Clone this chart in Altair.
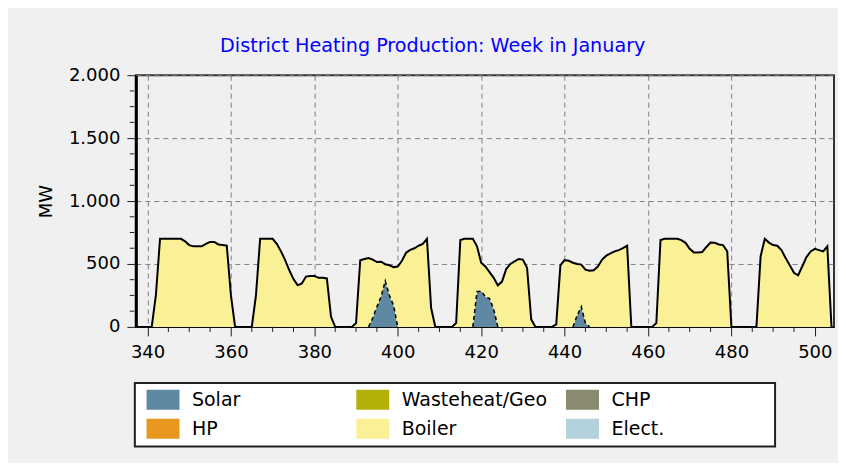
import altair as alt
import pandas as pd

# ---- data (hourly, hours 337..504) ----
start_hour = 337
total_day1 = [0, 0, 0, 0, 0, 250, 700, 700, 700, 700, 700, 700, 680, 650, 640, 640, 640, 660, 675, 675, 655, 650, 645, 250]
total_day2 = [0, 0, 0, 0, 0, 250, 700, 700, 700, 700, 660, 600, 530, 450, 380, 330, 345, 400, 405, 405, 390, 390, 385, 80]
total_day3 = [0, 0, 0, 0, 0, 30, 530, 540, 547, 534, 515, 518, 498, 490, 475, 480, 525, 590, 612, 625, 645, 660, 700, 150]
total_day4 = [0, 0, 0, 0, 0, 30, 690, 700, 700, 700, 640, 510, 480, 435, 390, 330, 360, 460, 500, 520, 540, 535, 470, 60]
total_day5 = [0, 0, 0, 0, 0, 20, 490, 530, 525, 510, 500, 495, 455, 447, 450, 480, 535, 566, 585, 600, 610, 626, 645, 0]
total_day6 = [0, 0, 0, 0, 0, 30, 690, 700, 700, 700, 700, 690, 668, 620, 592, 592, 595, 635, 670, 668, 655, 650, 600, 0]
total_day7 = [0, 0, 0, 0, 0, 0, 560, 700, 670, 650, 645, 610, 547, 490, 430, 410, 482, 555, 600, 620, 610, 600, 640, 0]

solar_day1 = [0] * 24
solar_day2 = [0] * 24
solar_day3 = [0, 0, 0, 0, 0, 0, 0, 0, 0, 70, 160, 240, 365, 250, 170, 0, 0, 0, 0, 0, 0, 0, 0, 0]
solar_day4 = [0, 0, 0, 0, 0, 0, 0, 0, 0, 0, 280, 285, 240, 225, 140, 0, 0, 0, 0, 0, 0, 0, 0, 0]
solar_day5 = [0, 0, 0, 0, 0, 0, 0, 0, 0, 0, 90, 160, 30, 0, 0, 0, 0, 0, 0, 0, 0, 0, 0, 0]
solar_day6 = [0] * 24
solar_day7 = [0] * 24

sources = ["Solar", "Wasteheat/Geo", "CHP", "HP", "Boiler", "Elect."]
source_colors = ["#5F88A2", "#B4B00A", "#8A8A70", "#E8981E", "#FAF096", "#B4D2DC"]

x_major = [340, 360, 380, 400, 420, 440, 460, 480, 500]
x_minor = [345, 350, 355, 365, 370, 375, 385, 390, 395, 405, 410, 415,
           425, 430, 435, 445, 450, 455, 465, 470, 475, 485, 490, 495]
y_major = [0, 500, 1000, 1500, 2000]
y_minor = [125, 250, 375, 625, 750, 875, 1125, 1250, 1375, 1625, 1750, 1875]

# ---- tables ----
total = total_day1 + total_day2 + total_day3 + total_day4 + total_day5 + total_day6 + total_day7
solar = solar_day1 + solar_day2 + solar_day3 + solar_day4 + solar_day5 + solar_day6 + solar_day7
hours = list(range(start_hour, start_hour + len(total)))
df = pd.DataFrame({
    "hour": hours,
    "Solar": solar,
    "Boiler": [t - s for t, s in zip(total, solar)],
    "Total": total,
})

# dashed solar outline: only where solar is present (plus zero end points)
seg_rows = []
seg = 0
prev_in = False
for i, h in enumerate(hours):
    s = solar[i]
    near = s > 0 or (i > 0 and solar[i - 1] > 0) or (i + 1 < len(solar) and solar[i + 1] > 0)
    if near:
        if not prev_in:
            seg += 1
        seg_rows.append({"hour": h, "value": s, "seg": seg})
    prev_in = near
solar_df = pd.DataFrame(seg_rows)

font = "DejaVu Sans"
xscale = alt.Scale(domain=[337.2, 504.6], nice=False, zero=False)
yscale = alt.Scale(domain=[0, 2000], nice=False)

x_axis = alt.Axis(values=x_major, title=None, grid=True, gridDash=[5, 4], gridColor="#808080",
                  gridWidth=1, tickSize=9, tickColor="#202020", labelPadding=8,
                  labelFont=font, labelFontSize=18, labelColor="black",
                  domainColor="black", domainWidth=1, labelFlush=False)
y_axis = alt.Axis(values=y_major, title="MW", grid=True, gridDash=[5, 4], gridColor="#808080",
                  gridWidth=1, tickSize=9, tickColor="#202020", labelPadding=7,
                  labelFont=font, labelFontSize=18, labelColor="black",
                  labelExpr="replace(format(datum.value, ','), ',', '.')",
                  domainColor="black", domainWidth=3,
                  titleFont=font, titleFontSize=18, titleFontWeight="normal", titleColor="black",
                  titlePadding=13)

X = alt.X("hour:Q", scale=xscale, axis=x_axis)
Y = alt.Y("value:Q", scale=yscale, axis=y_axis)

# legend frame (drawn beneath the legend entries)
legend_box = alt.Chart(pd.DataFrame({"frame": [0]})).mark_rect(
    fill="white", stroke="#202020", strokeWidth=2
).encode(x=alt.value(-1), x2=alt.value(640), y=alt.value(308.3), y2=alt.value(371.7))

area = alt.Chart(df).transform_fold(
    ["Solar", "Boiler"], as_=["source", "value"]
).transform_calculate(
    ord="datum.source === 'Solar' ? 0 : 1"
).mark_area(clip=True, interpolate="linear", opacity=1).encode(
    x=X,
    y=alt.Y("value:Q", scale=yscale, axis=y_axis, stack="zero"),
    color=alt.Color("source:N", scale=alt.Scale(domain=sources, range=source_colors),
                    legend=alt.Legend(title=None, orient="none", legendX=10.7, legendY=315,
                                      direction="horizontal", columns=3, gridAlign="all",
                                      columnPadding=18, rowPadding=9, padding=0,
                                      symbolType="M-1.65,-1L1.65,-1L1.65,1L-1.65,1Z",
                                      symbolSize=400, symbolStrokeWidth=0, symbolOffset=6.5,
                                      symbolOpacity=1,
                                      labelFont=font, labelFontSize=19, labelOffset=19,
                                      labelColor="black", labelLimit=400)),
    order=alt.Order("ord:Q"),
)

total_line = alt.Chart(df).transform_calculate(value="datum.Total").mark_line(
    color="black", strokeWidth=2, clip=True
).encode(x=X, y=Y)

solar_line = alt.Chart(solar_df).mark_line(
    color="black", strokeWidth=1.5, strokeDash=[4, 3], clip=True
).encode(x=X, y=Y, detail="seg:N")

x_minor_ticks = alt.Chart(pd.DataFrame({"hour": x_minor})).mark_rule(
    color="#202020", strokeWidth=1
).encode(x=X, y=alt.value(252), y2=alt.value(257))

y_minor_ticks = alt.Chart(pd.DataFrame({"value": y_minor})).mark_rule(
    color="#202020", strokeWidth=1
).encode(y=Y, x=alt.value(-6), x2=alt.value(-1.5))

chart = alt.layer(legend_box, area, total_line, solar_line, x_minor_ticks, y_minor_ticks).properties(
    width=699,
    height=252,
    title=alt.Title("District Heating Production: Week in January", font=font, fontSize=19.2,
                    fontWeight="normal", color="#0000FF", anchor="middle", frame="bounds",
                    baseline="alphabetic", offset=-5, dx=-3),
    autosize=alt.AutoSizeParams(type="none"),
    padding={"left": 128, "top": 67, "right": 4, "bottom": 136},
    background="#F0F0F0",
).configure_view(fill="#F0F0F0", stroke="#333333", strokeWidth=2)

chart.save("out.html", embed_options={"renderer": "svg", "actions": False})
